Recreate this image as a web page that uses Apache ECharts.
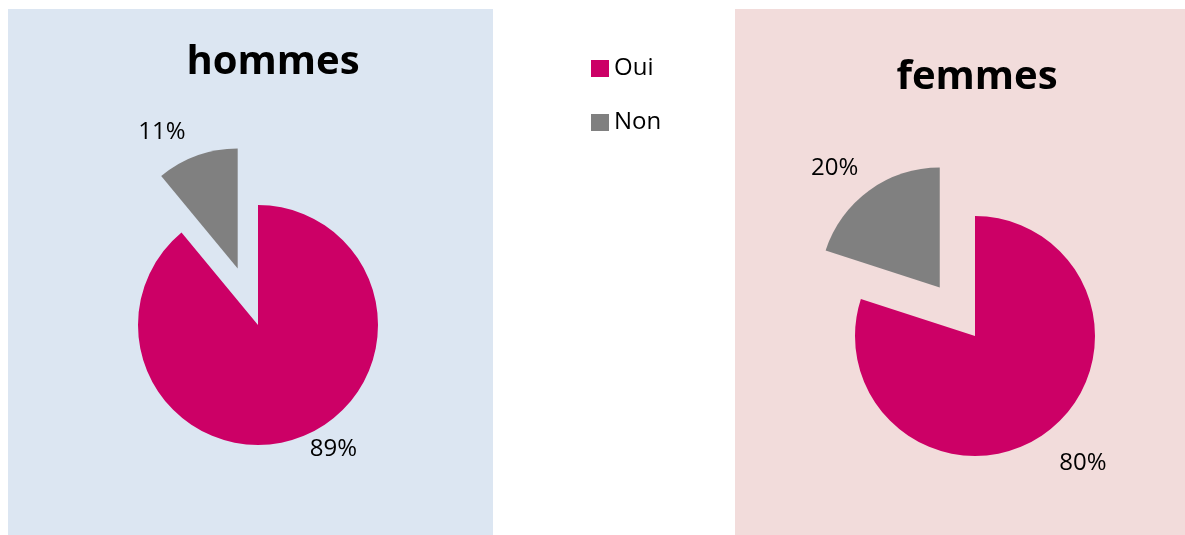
<!DOCTYPE html>
<html>
<head>
<meta charset="utf-8">
<script src="https://cdn.jsdelivr.net/npm/echarts@6/dist/echarts.min.js"></script>
<style>
    html, body {margin: 0; padding: 0; background: #ffffff;}
    #chart {width: 1185px; height: 535px;}
</style>
</head>
<body>
<div id="chart"></div>
<script>
// catégories et valeurs (en %)
const categories = ['Oui', 'Non']
const hommesValues = [89, 11]
const femmesValues = [80, 20]
const panelTitles = ['hommes', 'femmes']

const COLORS = ['#CC0066', '#808080']
const FONT = '"Open Sans", Lato, sans-serif'

// réglages des étiquettes par part : [longueur ligne, distance]
const hommesLabelPos = [[12, 7], [25, 3]]
const femmesLabelPos = [[37, -8], [27, -5]]

function buildData(values, labelPos) {
    return values.map((v, i) => ({
        name: categories[i],
        value: v,
        // la part "Non" est détachée
        selected: i === 1,
        labelLine: {show: false, length: labelPos[i][0], length2: 0},
        label: {distanceToLabelLine: labelPos[i][1]}
    }))
}

function buildPie(values, labelPos, center) {
    return {
        type: 'pie',
        center: center,
        radius: 120,
        startAngle: 90,
        clockwise: true,
        selectedMode: 'multiple',
        selectedOffset: 60,
        avoidLabelOverlap: false,
        animation: false,
        silent: true,
        itemStyle: {borderWidth: 0},
        label: {
            show: true,
            position: 'outside',
            formatter: '{c}%',
            fontFamily: FONT,
            fontSize: 24,
            color: '#000000'
        },
        labelLine: {show: false},
        emphasis: {disabled: true},
        data: buildData(values, labelPos)
    }
}

const myChart = echarts.init(document.getElementById('chart'), null, {renderer: 'canvas'})

const option = {
    animation: false,
    color: COLORS,
    // fonds des deux panneaux
    graphic: [
        {type: 'rect', z: -10, shape: {x: 8, y: 9, width: 485, height: 530}, style: {fill: '#DCE6F2'}},
        {type: 'rect', z: -10, shape: {x: 735, y: 9, width: 455, height: 530}, style: {fill: '#F2DCDB'}}
    ],
    title: [
        {
            text: panelTitles[0], left: 268, top: 38, textAlign: 'center',
            textStyle: {fontFamily: FONT, fontWeight: 'bold', fontSize: 40, color: '#000000'}
        },
        {
            text: panelTitles[1], left: 972, top: 53, textAlign: 'center',
            textStyle: {fontFamily: FONT, fontWeight: 'bold', fontSize: 40, color: '#000000'}
        }
    ],
    legend: {
        data: categories,
        orient: 'vertical',
        left: 586,
        top: 51,
        icon: 'rect',
        itemWidth: 18,
        itemHeight: 17,
        itemGap: 29,
        selectedMode: false,
        textStyle: {fontFamily: FONT, fontSize: 24, color: '#000000', lineHeight: 25}
    },
    series: [
        buildPie(hommesValues, hommesLabelPos, [258, 325]),
        buildPie(femmesValues, femmesLabelPos, [975, 336])
    ]
}

myChart.setOption(option)
</script>
</body>
</html>
